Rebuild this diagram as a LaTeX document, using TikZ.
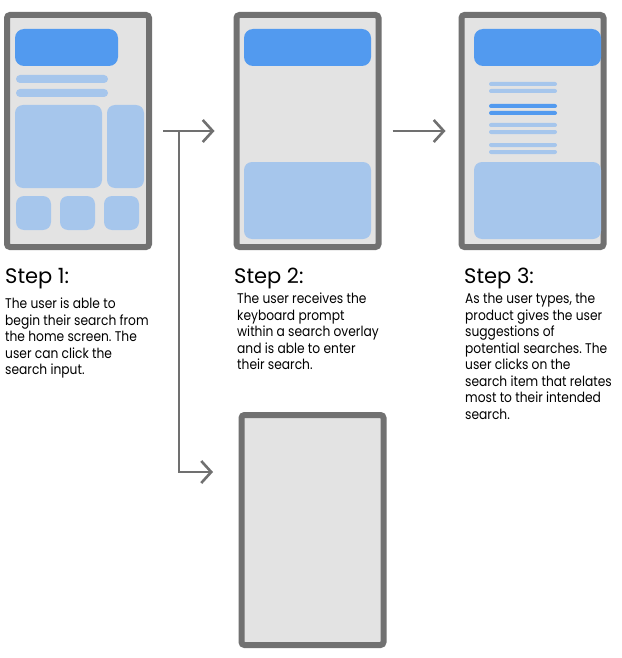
\documentclass[tikz,border=0pt]{standalone}
\usepackage{fontspec}
\setmainfont{Poppins}
\newfontfamily\bodyfont{Poppins}[FakeStretch=0.875]
\usetikzlibrary{arrows.meta,positioning}
\definecolor{framegray}{HTML}{717171}
\definecolor{screengray}{HTML}{E3E3E3}
\definecolor{barblue}{HTML}{529AEF}
\definecolor{tileblue}{HTML}{A6C6EC}
\definecolor{arrowgray}{HTML}{707070}
\frenchspacing
\tikzset{
phone/.style={
  draw=framegray,
  fill=screengray,
  line width=6pt,
  rounded corners=3pt,
  minimum width=142pt,
  minimum height=232pt,
  inner sep=0pt,
  outer sep=0pt
  },
bar/.style={fill=barblue, rounded corners=9pt},
tile/.style={fill=tileblue, rounded corners=8pt},
stripe/.style={fill=tileblue, rounded corners=2pt},
flow/.style={draw=arrowgray, line width=2.6pt, -{Straight Barb[length=10pt,width=22pt]}},
title/.style={font=\fontsize{21}{24}\selectfont, anchor=base west, inner sep=0pt},
body/.style={font=\bodyfont\fontsize{14}{16.5}\selectfont, align=left, anchor=north west, inner sep=0pt}
}

\begin{document}
\begin{tikzpicture}[x=1pt,y=-1pt]
  \useasboundingbox[fill=white] (0,0) rectangle (621,658);

  \node[phone] (phone1) at (78,131) {};
  \node[phone] (phone2) at (307.5,131) {};
  \node[phone] (phone3) at (532.5,131) {};
  \node[phone,minimum height=230pt] (phone4) at (312.5,530) {};

  % home screen
  \fill[bar]  (15,29) rectangle (118,66);
  \fill[stripe,rounded corners=4pt] (16,75) rectangle (108,83);
  \fill[stripe,rounded corners=4pt] (16,89) rectangle (108,97);
  \fill[tile] (15,105) rectangle (102,188);
  \fill[tile] (107,105) rectangle (144,188);
  \foreach \x in {16,60,104}
    \fill[tile] (\x,196) rectangle (\x+35,230);

  % search overlay
  \fill[bar]  (244,29) rectangle (371,66);
  \fill[tile] (244,162) rectangle (371,239);

  % suggestions
  \fill[bar]  (474,29) rectangle (601,66);
  \foreach \y in {84,91,125,132,145,152}
    \fill[stripe] (489,\y-2) rectangle (557,\y+2);
  \foreach \y in {106,113}
    \fill[stripe,fill=barblue] (489,\y-2) rectangle (557,\y+2);
  \fill[tile] (474,162) rectangle (601,239);

  \coordinate (fork) at (179,131);
  \coordinate (forkend) at (213,472);
  \draw[flow] ([xshift=14pt]phone1.east) -- ([xshift=-22pt]phone2.west);
  \draw[flow] (fork) |- (forkend);
  \draw[flow] ([xshift=14pt]phone2.east) -- ([xshift=-16pt]phone3.west);

  \node[title] (title1) at (5,283) {Step 1:};
  \node[title] (title2) at (234,283) {Step 2:};
  \node[title] (title3) at (464,283) {Step 3:};

  \node[body] (text1) at (5,298) {The user is able to\\begin their search from\\the home screen. The\\user can click the\\search input.};
  \node[body] (text2) at (237,293) {The user receives the\\keyboard prompt\\within a search overlay\\and is able to enter\\their search.};
  \node[body] (text3) at (465,293) {As the user types, the\\product gives the user\\suggestions of\\potential searches. The\\user clicks on the\\search item that relates\\most to their intended\\search.};
\end{tikzpicture}
\end{document}
